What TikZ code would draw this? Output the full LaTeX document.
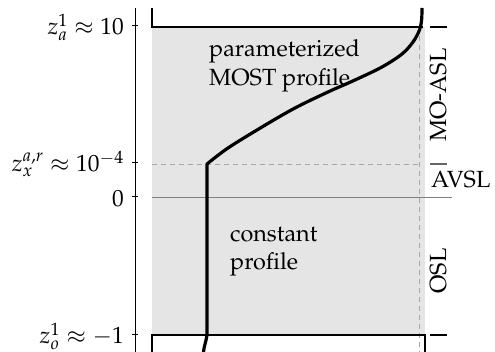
\documentclass[tikz,border=0pt]{standalone}
\usepackage[T1]{fontenc}
\usepackage{mathpazo}
\begin{document}
\begin{tikzpicture}[x=1pt,y=-1pt,
  txt/.style={inner sep=0pt,font=\fontsize{23.4}{28.8}\selectfont},
  frameline/.style={line width=1.3pt,black},
  axisline/.style={line width=0.9pt,black},
  dashline/.style={line width=0.9pt,gray!70,dash pattern=on 5pt off 4pt},
  zeroline/.style={line width=1pt,gray},
  profile/.style={line width=3.2pt,black,line join=round}]
\useasboundingbox (0,0) rectangle (495,352);
% shaded domain
\fill[gray!20] (152,27) rectangle (425,335);
% reference lines
\draw[dashline] (152,164) -- (419,164);
\draw[dashline] (419,27) -- (419,352);
\draw[zeroline] (152,198) -- (452,198);
% frame pieces
\draw[frameline] (152,8) -- (152,27) -- (423,27);
\draw[frameline] (152,352) -- (152,335) -- (425,335) -- (425,352);
% axis with ticks
\coordinate (axtop) at (135,8);
\coordinate (axbot) at (135,352);
\draw[axisline] (axtop) -- (axbot);
\foreach \yy in {25,162,196,334} \draw[axisline] (132,\yy) -- (138,\yy);
% axis labels
\node[txt,anchor=base east] (la) at (124,35) {$z_a^1 \approx 10$};
\node[txt,anchor=base east] (lx) at (124,172) {$z_x^{a,r} \approx 10^{-4}$};
\node[txt,anchor=base east] (l0) at (124,207) {$0$};
\node[txt,anchor=base east] (lo) at (124,344) {$z_o^1 \approx -1$};
% right layer ticks
\draw[frameline] (430,27) -- (447,27);
\draw[line width=1.3pt,gray!80!black] (430,164) -- (447,164);
\draw[frameline] (430,335) -- (447,335);
% layer labels
\node[txt,rotate=90,anchor=base] (moasl) at (446,95) {MO-ASL};
\node[txt,anchor=base west] (avsl) at (431,188) {AVSL};
\node[txt,rotate=90,anchor=base] (osl) at (446,271) {OSL};
% profile curve
\draw[profile] plot[smooth,tension=0.55] coordinates {(422,8) (421.6,20) (419.5,30) (413,42) (402,54) (382,67) (355,80) (328,92) (295,108) (262,127) (228,148) (207,164)}
  -- (207,335) .. controls (206,342) and (204,346) .. (203.5,352);
% region texts
\node[txt,anchor=base west] (most1) at (209,56.7) {parameterized};
\node[txt,anchor=base west] (most2) at (209,86) {MOST profile};
\node[txt,anchor=base west] (const1) at (230,241.7) {constant};
\node[txt,anchor=base west] (const2) at (230,270) {profile};
\end{tikzpicture}
\end{document}
